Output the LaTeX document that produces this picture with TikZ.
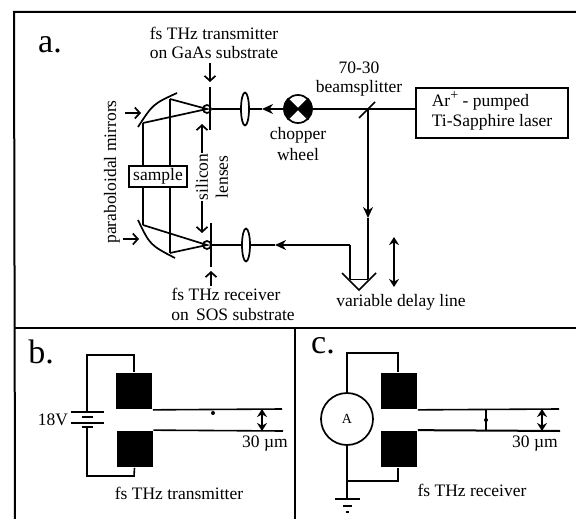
\documentclass[tikz,border=0pt]{standalone}
\usepackage{fontspec}
\setmainfont{Liberation Serif}
\usepackage{xcolor}
\usetikzlibrary{arrows.meta, shapes.geometric}

\begin{document}
\begin{tikzpicture}[x=1pt,y=-1pt,>={Stealth[length=11pt,width=10pt]},line width=1.7pt,font=\fontsize{17.5}{19}\selectfont]

                \tikzset{every node/.style={inner sep=0pt},
                    wire/.style={line width=1.6pt},
                    beam/.style={line width=2pt},
                    thinbeam/.style={line width=1.7pt},
                    lens/.style={ellipse, draw, fill=white, minimum width=8pt, minimum height=33pt},
                    spot/.style={circle, draw, minimum size=8pt},
                    pad/.style={fill=black, minimum width=36pt, minimum height=36pt},
                    panel/.style={font=\fontsize{34}{34}\selectfont},
                    pointer/.style={-{Straight Barb[length=5pt,width=11pt]},line width=1.7pt},
                    gap/.style={{Stealth[length=8pt,width=10pt]}-{Stealth[length=8pt,width=10pt]},line width=1.8pt}}

                \useasboundingbox (0,0) rectangle (576,519);

                \coordinate (FL) at (14,12);
                \coordinate (FR) at (576,12);
                \coordinate (ML) at (14,328);
                \coordinate (MR) at (576,328);
                \coordinate (MM) at (295,328);
                \coordinate (BL) at (15,519);
                \coordinate (BM) at (295,519);
                \draw[line width=2pt] (BL) -- (FL) -- (FR);
                \draw[line width=2pt] (ML) -- (MR);
                \draw[line width=2pt] (MM) -- (BM);

                \node[panel] (labelA) at (50,45) {a.};
                \node[panel] (labelB) at (41,352) {b.};
                \node[panel] (labelC) at (323,346) {c.};

                \node[draw, minimum width=152pt, minimum height=50pt] (laser) at (492,113) {};
                \node[anchor=west] (laserA) at (431,101) {Ar\raisebox{.4em}{\fontsize{14}{14}\selectfont +} - pumped};
                \node[anchor=west] (laserB) at (431,122) {Ti-Sapphire laser};
                \node (split) at (359,68) {70-30};
                \node (splitB) at (359,88) {beamsplitter};
                \node (delay) at (401,302) {variable delay line};
                \node (chopA) at (298,135) {chopper};
                \node (chopB) at (298,155) {wheel};
                \node (txA) at (214,33) {fs THz transmitter};
                \node (txB) at (214,53) {on GaAs substrate};
                \node (rxA) at (226,294) {fs THz receiver};
                \node (rxB) at (233,315) {on\, SOS substrate};
                \node[rotate=90] (silicon) at (202,177) {silicon};
                \node[rotate=90] (lenses) at (222,177) {lenses};
                \node[rotate=90] (parab) at (112,172) {paraboloidal mirrors};

                \node[circle, draw, fill=white, minimum size=28pt] (chopper) at (298,109) {};
                \fill (chopper.center) -- (chopper.45) arc (45:-45:14pt) -- cycle;
                \fill (chopper.center) -- (chopper.135) arc (135:225:14pt) -- cycle;
                \draw (chopper.45) -- (chopper.225);
                \draw (chopper.135) -- (chopper.315);

                \node[lens] (lensT) at (245,109) {};
                \node[lens] (lensR) at (246,245) {};
                \node[spot] (spotT) at (207,109) {};
                \node[spot] (spotR) at (207,245) {};
                \node[draw, fill=white, minimum width=58pt, minimum height=21pt] (sample) at (158,176.5) {sample};

                \coordinate (split0) at (368,109);
                \coordinate (headT) at (262,109);
                \coordinate (headR) at (275,245);
                \coordinate (headD) at (368,218);
                \coordinate (retroA) at (368,279);
                \coordinate (retroB) at (350,279);
                \coordinate (retroC) at (350,245);

                \draw[beam] (laser.west |- split0) -- (chopper);
                \draw[beam,->] (chopper) -- (headT);
                \draw[beam] (headT) -- (lensT);
                \draw[beam] (lensT) -- (spotT);
                \draw[thinbeam,->] (split0) -- (headD);
                \draw[thinbeam] (headD) -- (retroA);
                \draw[beam] (retroB) -- (retroC);
                \draw[beam,->] (retroC) -- (headR);
                \draw[beam] (headR) -- (lensR);
                \draw[beam] (lensR) -- (spotR);

                \coordinate (splitA) at (359,118);
                \coordinate (splitC) at (375,102);
                \draw (splitA) -- (splitC);

                \coordinate (retroL) at (342,273);
                \coordinate (retroV) at (359,290);
                \coordinate (retroR) at (376,273);
                \draw (retroL) -- (retroV) -- (retroR);
                \draw[line width=.8pt] (retroB) -- (retroA);
                \coordinate (shiftA) at (394,237);
                \coordinate (shiftB) at (394,287);
                \draw[gap] (shiftA) -- (shiftB);

                \coordinate (subTa) at (210,87);
                \coordinate (subTb) at (210,130);
                \coordinate (subRa) at (211,223);
                \coordinate (subRb) at (211,267);
                \draw (subTa) -- (subTb);
                \draw (subRa) -- (subRb);
                \coordinate (txArrowA) at (210,63);
                \coordinate (txArrowB) at (210,82);
                \coordinate (rxArrowA) at (211,286);
                \coordinate (rxArrowB) at (211,271);
                \draw[pointer] (txArrowA) -- (txArrowB);
                \draw[pointer] (rxArrowA) -- (rxArrowB);

                \coordinate (mirTa) at (138,127);
                \coordinate (mirTc) at (177,93);
                \coordinate (mirRa) at (138,220);
                \coordinate (mirRc) at (175,258);
                \draw (mirTa) .. controls (153,104) .. (mirTc);
                \draw (mirRa) .. controls (150,245) .. (mirRc);

                \coordinate (rayTa) at (143,123);
                \coordinate (rayTb) at (170,99);
                \coordinate (rayRa) at (143,225);
                \coordinate (rayRb) at (170,253);
                \draw (rayTa) -- (spotT.center) -- (rayTb);
                \draw (rayRa) -- (spotR.center) -- (rayRb);
                \draw (rayTa) -- (sample.north -| rayTa);
                \draw (rayTb) -- (sample.north -| rayTb);
                \draw (sample.south -| rayRa) -- (rayRa);
                \draw (sample.south -| rayRb) -- (rayRb);

                \coordinate (mirArrowA) at (125,113);
                \coordinate (mirArrowB) at (141,113);
                \coordinate (mirArrowC) at (123,239);
                \coordinate (mirArrowD) at (139,239);
                \draw[pointer] (mirArrowA) -- (mirArrowB);
                \draw[pointer] (mirArrowC) -- (mirArrowD);

                \coordinate (silA) at (202,124);
                \coordinate (silB) at (202,233);
                \draw[pointer] (silicon.east) -- (silA);
                \draw[pointer] (silicon.west) -- (silB);

                \node[pad] (padBt) at (134,391) {};
                \node[pad] (padBb) at (134.5,449) {};
                \node (volt) at (53,420) {18V};
                \node (widthB) at (265,444) {30 µm};
                \node (nameB) at (179,493) {fs THz transmitter};
                \coordinate (wireBa) at (87,412);
                \coordinate (wireBb) at (87,355);
                \coordinate (wireBc) at (134,355);
                \coordinate (wireBd) at (134,476);
                \coordinate (wireBe) at (87,476);
                \coordinate (wireBf) at (87,427);
                \draw[wire] (wireBa) -- (wireBb) -- (wireBc) -- (padBt.north);
                \draw[wire] (padBb.south) -- (wireBd) -- (wireBe) -- (wireBf);
                \coordinate (batAa) at (71,412);
                \coordinate (batAb) at (104,412);
                \coordinate (batBa) at (82,417);
                \coordinate (batBb) at (93,417);
                \coordinate (batCa) at (71,423);
                \coordinate (batCb) at (104,423);
                \coordinate (batDa) at (82,427);
                \coordinate (batDb) at (93,427);
                \draw (batAa) -- (batAb);
                \draw (batCa) -- (batCb);
                \draw[line width=2pt] (batBa) -- (batBb);
                \draw[line width=2pt] (batDa) -- (batDb);
                \coordinate (lineBt) at (282,409);
                \coordinate (lineBb) at (283,431);
                \draw[wire] (padBt.south east) -- (lineBt);
                \draw[wire] (padBb.north east) -- (lineBb);
                \node[circle, fill=black, minimum size=4pt] (dotB) at (213,413) {};
                \coordinate (gapBa) at (262,409);
                \coordinate (gapBb) at (262,431);
                \draw[gap] (gapBa) -- (gapBb);

                \node[pad] (padCt) at (399,391) {};
                \node[pad] (padCb) at (399,449) {};
                \node[circle, draw, minimum size=52pt, font=\fontsize{14}{15}\selectfont] (meter) at (347,419) {A};
                \node (widthC) at (535,444) {30 µm};
                \node (nameC) at (472,490) {fs THz receiver};
                \coordinate (wireCa) at (347,353);
                \coordinate (wireCb) at (398,353);
                \coordinate (wireCc) at (398,481);
                \coordinate (wireCd) at (347,481);
                \coordinate (wireCe) at (347,499);
                \draw[wire] (meter.north) -- (wireCa) -- (wireCb) -- (wireCb |- padCt.north);
                \draw[wire] (wireCc |- padCb.south) -- (wireCc) -- (wireCd);
                \draw[wire] (meter.south) -- (wireCe);
                \coordinate (gndAa) at (335,499);
                \coordinate (gndAb) at (360,499);
                \coordinate (gndBa) at (343,506);
                \coordinate (gndBb) at (352,506);
                \coordinate (gndCa) at (346,512);
                \coordinate (gndCb) at (349,512);
                \draw (gndAa) -- (gndAb);
                \draw (gndBa) -- (gndBb);
                \draw (gndCa) -- (gndCb);
                \coordinate (lineCt) at (559,409);
                \coordinate (lineCb) at (560,431);
                \draw[wire] (padCt.south east) -- (lineCt);
                \draw[line width=2pt] (padCb.north east) -- (lineCb);
                \coordinate (markA) at (486,409);
                \coordinate (markB) at (486,431);
                \draw[line width=1.2pt] (markA) -- (markB);
                \node[circle, fill=black, minimum size=4pt] (dotC) at (486,420) {};
                \coordinate (gapCa) at (542,409);
                \coordinate (gapCb) at (542,431);
                \draw[gap] (gapCa) -- (gapCb);
            \end{tikzpicture}
\end{document}
